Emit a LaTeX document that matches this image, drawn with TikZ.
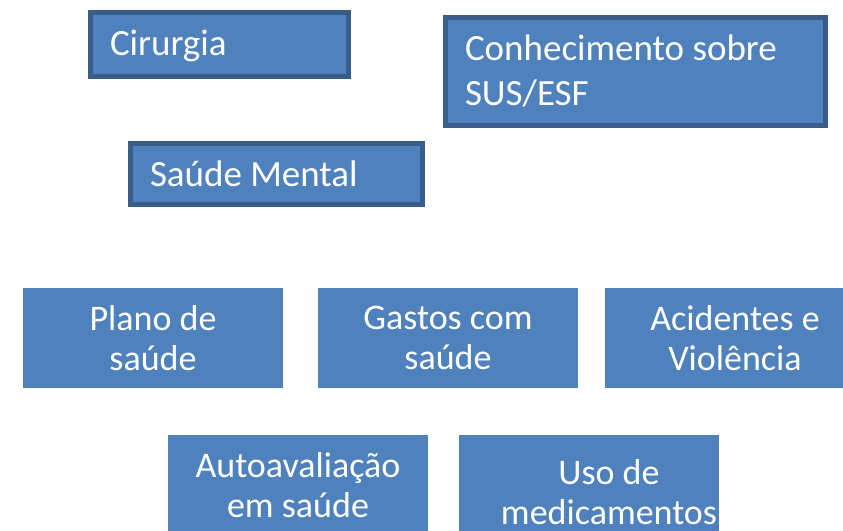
\documentclass[tikz,border=0pt]{standalone}
\usepackage{fontspec}
\setmainfont{Carlito}
\usetikzlibrary{positioning}
\definecolor{boxFill}{HTML}{4F81BD}
\definecolor{boxLine}{HTML}{385D8A}
\newcommand{\nohyph}{\hyphenpenalty=10000\relax}
\tikzstyle{box}=[rectangle, fill=boxFill, text=white, outer sep=0pt, anchor=north west]
\tikzstyle{styTop}=[box, draw=boxLine, line width=5pt, align=flush left, inner xsep=20pt, inner ysep=0pt,
  font=\fontsize{37}{45}\selectfont\nohyph]
\tikzstyle{styLow}=[box, minimum width=260pt, minimum height=100pt, inner xsep=0pt,
  align=flush center, font=\fontsize{36}{40}\selectfont\nohyph]

\begin{document}
\begin{tikzpicture}[x=1pt,y=-1pt]
\useasboundingbox[fill=white] (0,0) rectangle (843,530);

\node[styTop, minimum width=258pt, minimum height=64pt, text width=218pt, text height=30pt, text depth=8pt] (cir) at (90,12) {Cirurgia};
\node[styTop, minimum width=380pt, minimum height=108pt, text width=340pt] (sus) at (445,17) {Conhecimento sobre\\SUS/ESF};
\node[styTop, minimum width=292pt, minimum height=61pt, text width=252pt] (men) at (130,143) {Saúde Mental};

\node[styLow] (pla) at (23,288) {Plano de\\saúde};
\node[styLow] (gas) at (318,288) {Gastos com\\saúde};
\node[styLow] (aci) at (605,288) {Acidentes e\\Violência};

\node[styLow] (aut) at (168,435) {Autoavaliação\\em saúde};
\node[styLow, minimum height=114pt] (uso) at (459,435) {\hspace*{40pt}Uso de\\\hspace*{40pt}medicamentos};

\end{tikzpicture}
\end{document}
